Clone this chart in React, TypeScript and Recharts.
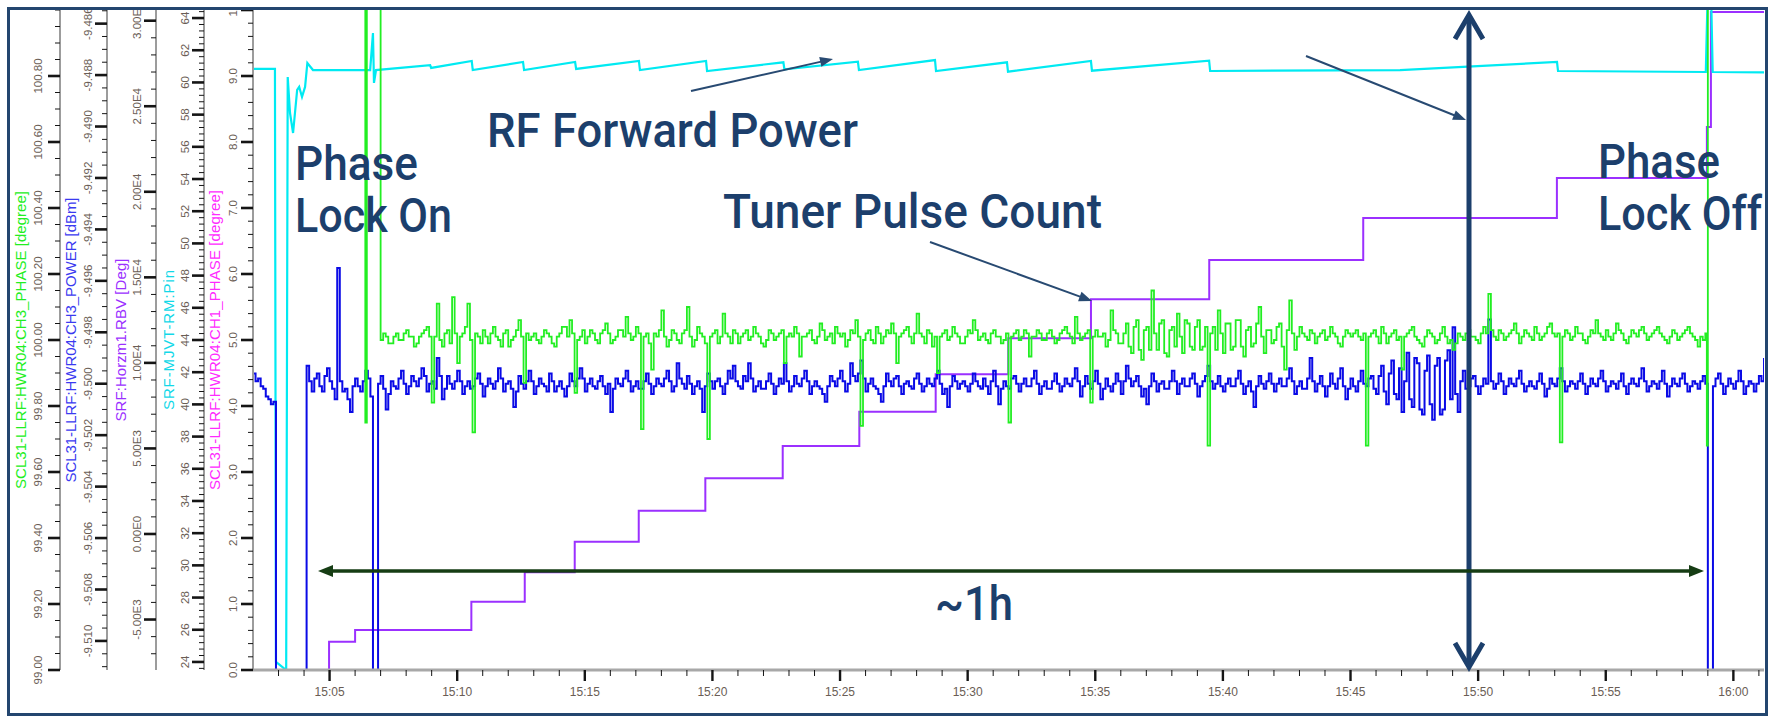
import React from 'react';
import { LineChart, Line, XAxis, YAxis } from 'recharts';

// ---------------- time axis (minutes after 15:00) ----------------
const X_DOMAIN: [number, number] = [2.0, 61.2];
const xMajorTicks = [5, 10, 15, 20, 25, 30, 35, 40, 45, 50, 55, 60];
const xTickLabels = ['15:05', '15:10', '15:15', '15:20', '15:25', '15:30', '15:35', '15:40', '15:45', '15:50', '15:55', '16:00'];
const X_MINOR_STEP = 1;

// ---------------- axis definitions ----------------
const GREEN_DOMAIN: [number, number] = [99.0, 101.0];
const greenMajorTicks = [99.0, 99.2, 99.4, 99.6, 99.8, 100.0, 100.2, 100.4, 100.6, 100.8];
const greenTickLabels = ['99.00', '99.20', '99.40', '99.60', '99.80', '100.00', '100.20', '100.40', '100.60', '100.80'];
const GREEN_MINOR_STEP = 0.05;

const BLUE_DOMAIN: [number, number] = [-9.51113, -9.48547];
const blueMajorTicks = [-9.51, -9.508, -9.506, -9.504, -9.502, -9.5, -9.498, -9.496, -9.494, -9.492, -9.49, -9.488, -9.486];
const blueTickLabels = ['-9.510', '-9.508', '-9.506', '-9.504', '-9.502', '-9.500', '-9.498', '-9.496', '-9.494', '-9.492', '-9.490', '-9.488', '-9.486'];
const BLUE_MINOR_STEP = 0.0005;

const PURPLE_DOMAIN: [number, number] = [-7950, 30625];
const purpleMajorTicks = [-5000, 0, 5000, 10000, 15000, 20000, 25000, 30000];
const purpleTickLabels = ['-5.00E3', '0.00E0', '5.00E3', '1.00E4', '1.50E4', '2.00E4', '2.50E4', '3.00E4'];
const PURPLE_MINOR_STEP = 1000;

const CYAN_DOMAIN: [number, number] = [23.5, 64.5];
const cyanMajorTicks = [24, 26, 28, 30, 32, 34, 36, 38, 40, 42, 44, 46, 48, 50, 52, 54, 56, 58, 60, 62, 64];
const cyanTickLabels = ['24', '26', '28', '30', '32', '34', '36', '38', '40', '42', '44', '46', '48', '50', '52', '54', '56', '58', '60', '62', '64'];
const CYAN_MINOR_STEP = 0.4;

const MAG_DOMAIN: [number, number] = [0, 10];
const magMajorTicks = [0, 1, 2, 3, 4, 5, 6, 7, 8, 9, 10];
const magTickLabels = ['0.0', '1.0', '2.0', '3.0', '4.0', '5.0', '6.0', '7.0', '8.0', '9.0', '10'];
const MAG_MINOR_STEP = 0.2;

// ---------------- series: SCL31-LLRF:HWR04:CH3_PHASE (green) ----------------
const greenLeadT = [6.37, 6.4, 6.46];
const greenLeadV = [101.5, 99.75, 101.5];
const GREEN_T0 = 7.0;
const GREEN_DT = 0.1;
const greenValues = [
  100.00, 100.02, 100.01, 99.99, 99.99, 100.01, 100.02, 100.00, 100.00, 100.02, 100.03, 100.01, 100.01, 99.98, 99.99, 100.01, 100.02, 100.03, 100.04, 100.01,
  99.81, 100.01, 100.11, 100.00, 99.98, 100.02, 100.03, 99.99, 100.13, 100.02, 99.93, 100.01, 100.02, 100.04, 100.11, 100.00, 99.72, 100.02, 100.01, 99.99,
  100.03, 100.01, 99.99, 100.02, 100.04, 100.01, 100.00, 99.98, 100.02, 100.03, 99.98, 100.00, 100.01, 100.03, 100.06, 100.01, 99.87, 100.02, 100.00, 100.01,
  100.02, 100.00, 99.99, 100.01, 100.03, 100.02, 100.01, 99.99, 99.98, 100.01, 100.02, 100.04, 100.04, 100.01, 100.06, 100.02, 99.84, 100.00, 100.01, 100.03,
  99.99, 100.01, 100.03, 100.02, 100.00, 99.99, 100.02, 100.03, 100.05, 100.02, 99.99, 100.00, 100.01, 100.03, 100.03, 100.01, 100.07, 100.02, 100.00, 100.01,
  100.04, 100.02, 99.73, 100.01, 100.02, 99.99, 99.91, 100.02, 100.01, 100.03, 100.09, 100.01, 99.98, 100.00, 100.03, 100.02, 100.00, 99.99, 100.02, 100.03,
  100.10, 100.01, 99.98, 100.00, 100.04, 100.02, 100.01, 99.99, 99.70, 100.01, 100.02, 100.03, 99.99, 100.01, 100.08, 100.02, 100.01, 99.99, 100.03, 100.02,
  99.99, 100.01, 100.02, 100.03, 100.00, 100.01, 100.04, 100.02, 100.01, 99.99, 99.98, 100.00, 100.03, 100.02, 100.00, 100.01, 100.02, 100.03, 99.93, 100.01,
  100.02, 100.01, 100.04, 100.02, 99.95, 100.01, 100.01, 100.02, 100.03, 100.00, 99.99, 100.01, 100.05, 100.03, 100.00, 100.01, 100.02, 99.99, 100.04, 100.02,
  100.01, 100.02, 99.98, 100.00, 100.03, 100.02, 100.06, 100.01, 99.74, 100.00, 100.02, 100.03, 100.00, 99.99, 100.04, 100.02, 99.99, 100.01, 100.03, 100.02,
  100.05, 100.02, 99.93, 100.01, 100.02, 100.03, 100.04, 100.01, 99.99, 100.02, 100.08, 100.02, 100.01, 99.99, 100.03, 100.02, 99.98, 100.01, 99.90, 100.01,
  100.02, 100.03, 100.00, 100.01, 100.04, 100.02, 100.01, 99.99, 99.99, 100.01, 100.03, 100.02, 100.06, 100.03, 100.00, 100.01, 100.02, 100.00, 99.99, 100.02,
  100.03, 100.01, 100.01, 99.99, 100.00, 100.02, 99.75, 100.01, 100.02, 100.03, 100.00, 100.01, 100.03, 100.02, 99.95, 100.01, 100.01, 100.03, 100.02, 100.00,
  100.00, 100.02, 100.03, 100.01, 99.99, 100.00, 100.02, 100.03, 100.04, 100.02, 100.01, 99.99, 100.07, 100.02, 100.00, 100.01, 100.02, 100.03, 99.81, 100.01,
  100.03, 100.01, 100.01, 100.02, 99.98, 100.00, 100.09, 100.03, 100.02, 99.99, 99.99, 100.02, 100.05, 99.98, 99.96, 100.04, 100.06, 99.97, 99.94, 100.03,
  100.04, 99.97, 100.15, 100.02, 99.97, 100.05, 100.06, 99.96, 99.95, 100.03, 100.04, 99.98, 100.08, 100.01, 99.96, 100.06, 100.05, 99.98, 99.97, 100.04,
  100.06, 99.97, 99.98, 100.04, 99.68, 100.02, 100.04, 99.97, 100.09, 100.02, 99.96, 100.05, 100.05, 99.97, 99.98, 100.06, 100.06, 99.98, 99.95, 100.03,
  100.04, 99.98, 99.99, 100.05, 100.10, 100.01, 99.96, 100.03, 100.03, 99.99, 100.00, 100.04, 100.05, 99.98, 99.91, 100.03, 100.12, 100.02, 99.97, 100.01,
  100.04, 100.02, 100.01, 100.00, 100.03, 100.02, 99.99, 100.01, 100.02, 100.03, 100.00, 100.01, 100.04, 100.02, 100.01, 99.99, 99.98, 100.01, 100.03, 100.02,
  100.01, 100.02, 100.03, 100.01, 100.00, 100.02, 99.68, 100.01, 100.02, 100.03, 100.01, 99.99, 100.04, 100.02, 99.99, 100.01, 100.02, 100.03, 100.00, 100.01,
  99.91, 100.01, 100.02, 100.03, 100.04, 100.01, 100.00, 99.99, 99.98, 100.01, 100.03, 100.02, 100.01, 99.99, 100.00, 100.02, 100.04, 100.01, 99.99, 100.00,
  99.97, 99.99, 100.02, 100.01, 100.00, 100.02, 100.03, 100.01, 100.01, 100.00, 99.99, 100.02, 100.04, 100.02, 100.14, 100.03, 100.01, 100.00, 100.03, 100.02,
  100.00, 100.01, 100.02, 100.03, 100.05, 100.02, 99.99, 100.01, 100.03, 100.02, 100.01, 100.00, 100.04, 100.02, 100.00, 100.01, 100.02, 100.04, 100.05, 100.02,
  100.01, 100.02, 99.69, 100.01, 100.03, 100.02, 100.00, 100.01, 100.04, 100.02, 100.02, 100.00, 99.99, 100.01, 100.03, 100.02, 100.06, 100.02, 100.01, 100.00,
  100.03, 100.01, 100.00, 100.02, 100.05, 100.03, 100.02, 100.00, 99.99, 100.01, 100.03, 100.02, 100.01, 100.03, 100.04, 100.02, 100.00, 100.01, 100.02, 100.03,
  100.04, 100.02, 100.01, 100.00, 99.99, 100.01, 100.03, 100.02, 100.00, 100.01, 100.02, 100.03, 100.04, 100.02, 100.01, 100.00, 99.98, 100.01, 100.00, 100.02,
];
const greenTailT = [58.96, 59.0];
const greenTailV = [99.68, 101.5];

// ---------------- series: SCL31-LLRF:HWR04:CH3_POWER (blue) ----------------
const BLUE_T0 = 2.0;
const BLUE_DT = 0.1;
const blueValues = [
  -9.4996, -9.4999, -9.4998, -9.5001, -9.5002, -9.5005, -9.5006, -9.5008, -9.5007, -9.515, -9.515, -9.515, -9.515, -9.515, -9.515, -9.515, -9.515, -9.515, -9.515, -9.515,
  -9.515, -9.4993, -9.4999, -9.5003, -9.4998, -9.4996, -9.5001, -9.5003, -9.4997, -9.4994, -9.4999, -9.5002, -9.5006, -9.4955, -9.4999, -9.5003, -9.5002, -9.5006, -9.5011, -9.5001,
  -9.4998, -9.5001, -9.5003, -9.4999, -9.4995, -9.4998, -9.5005, -9.515, -9.515, -9.5000, -9.4997, -9.5002, -9.5010, -9.5004, -9.4999, -9.5001, -9.5002, -9.4998, -9.4995, -9.5000,
  -9.5004, -9.5001, -9.4997, -9.4999, -9.5001, -9.4998, -9.4994, -9.4997, -9.5003, -9.5000, -9.4999, -9.5002, -9.4990, -9.4997, -9.5006, -9.5002, -9.4997, -9.5000, -9.5002, -9.4999,
  -9.4995, -9.4999, -9.5004, -9.5001, -9.4999, -9.5002, -9.5001, -9.4998, -9.4996, -9.5000, -9.5005, -9.5001, -9.4998, -9.5000, -9.5002, -9.4999, -9.4994, -9.4998, -9.5003, -9.5000,
  -9.4999, -9.5002, -9.5009, -9.5003, -9.4997, -9.5000, -9.5002, -9.4999, -9.4995, -9.4999, -9.5004, -9.5001, -9.4998, -9.5000, -9.5001, -9.5003, -9.4996, -9.4999, -9.5003, -9.5001,
  -9.4999, -9.5002, -9.5005, -9.5001, -9.4996, -9.4999, -9.5001, -9.4998, -9.4994, -9.4998, -9.5003, -9.5000, -9.4998, -9.5001, -9.5002, -9.4999, -9.4997, -9.5001, -9.5004, -9.5000,
  -9.5011, -9.5002, -9.4998, -9.5000, -9.5001, -9.4998, -9.4995, -9.4999, -9.5003, -9.5001, -9.4999, -9.5002, -9.5002, -9.4999, -9.4996, -9.5000, -9.5004, -9.5001, -9.4998, -9.5000,
  -9.5001, -9.4998, -9.4995, -9.4999, -9.5003, -9.5001, -9.4992, -9.4998, -9.5000, -9.5002, -9.4997, -9.5000, -9.5004, -9.5001, -9.4999, -9.5002, -9.5011, -9.5001, -9.4996, -9.4999,
  -9.5002, -9.4999, -9.4998, -9.5001, -9.5004, -9.5000, -9.4995, -9.4998, -9.4993, -9.4999, -9.5001, -9.5002, -9.4997, -9.4999, -9.4992, -9.4998, -9.5003, -9.5001, -9.4999, -9.5002,
  -9.5002, -9.4999, -9.4996, -9.5000, -9.5004, -9.5001, -9.4998, -9.5000, -9.4992, -9.4999, -9.5003, -9.5001, -9.4997, -9.5000, -9.5001, -9.4998, -9.4995, -9.4999, -9.5004, -9.5001,
  -9.4999, -9.5001, -9.5002, -9.5004, -9.5007, -9.5001, -9.4997, -9.4999, -9.5001, -9.4998, -9.4995, -9.4999, -9.5003, -9.5000, -9.4992, -9.4997, -9.4999, -9.4996, -9.4991, -9.4998,
  -9.5003, -9.5000, -9.4998, -9.5001, -9.5002, -9.5004, -9.5007, -9.5001, -9.4996, -9.4999, -9.5001, -9.4998, -9.4997, -9.5001, -9.5004, -9.5000, -9.4999, -9.5001, -9.5002, -9.4998,
  -9.4996, -9.5000, -9.5003, -9.5001, -9.4998, -9.5000, -9.5001, -9.4998, -9.4995, -9.5000, -9.5004, -9.5002, -9.5009, -9.5001, -9.4997, -9.4999, -9.5002, -9.5000, -9.4999, -9.5001,
  -9.5003, -9.5000, -9.4996, -9.4999, -9.5001, -9.5002, -9.4998, -9.5001, -9.5004, -9.4999, -9.4995, -9.5001, -9.5008, -9.5002, -9.4999, -9.5001, -9.5002, -9.4998, -9.4997, -9.5000,
  -9.5003, -9.5000, -9.4998, -9.5001, -9.5001, -9.4998, -9.4995, -9.5000, -9.5004, -9.5001, -9.4999, -9.5002, -9.5002, -9.4999, -9.4996, -9.5000, -9.5003, -9.5001, -9.4998, -9.5000,
  -9.5001, -9.4998, -9.4994, -9.4999, -9.5005, -9.5001, -9.4997, -9.5000, -9.5002, -9.4999, -9.4995, -9.5000, -9.5006, -9.5002, -9.4998, -9.5001, -9.5003, -9.5000, -9.4996, -9.4999,
  -9.5004, -9.4999, -9.4993, -9.4998, -9.5001, -9.4999, -9.4997, -9.5001, -9.5005, -9.5002, -9.5008, -9.5001, -9.4996, -9.4999, -9.5003, -9.5000, -9.4999, -9.5002, -9.5002, -9.4999,
  -9.4995, -9.4999, -9.5004, -9.5000, -9.4998, -9.5001, -9.5001, -9.4998, -9.4996, -9.5000, -9.5005, -9.5001, -9.4999, -9.4997, -9.4993, -9.4999, -9.5002, -9.5000, -9.4997, -9.5001,
  -9.5003, -9.5000, -9.4998, -9.5001, -9.5001, -9.4998, -9.4995, -9.5000, -9.5004, -9.5001, -9.4999, -9.5003, -9.5009, -9.5001, -9.4997, -9.5000, -9.5002, -9.4999, -9.4996, -9.5000,
  -9.5003, -9.5000, -9.4998, -9.5001, -9.5001, -9.4998, -9.4994, -9.4999, -9.5004, -9.5001, -9.4999, -9.5002, -9.5002, -9.4998, -9.4990, -9.4999, -9.5003, -9.5000, -9.4997, -9.5001,
  -9.5005, -9.5001, -9.4996, -9.5000, -9.5002, -9.4998, -9.4994, -9.5001, -9.5006, -9.5002, -9.4998, -9.5001, -9.5003, -9.4999, -9.4995, -9.5000, -9.5001, -9.4998, -9.4997, -9.5002,
  -9.5004, -9.4997, -9.4993, -9.5003, -9.5008, -9.4996, -9.4991, -9.5004, -9.5006, -9.4994, -9.5011, -9.4999, -9.4988, -9.5006, -9.5009, -9.4990, -9.4992, -9.5010, -9.5012, -9.4995,
  -9.4989, -9.5008, -9.5014, -9.4993, -9.4990, -9.5012, -9.5010, -9.4991, -9.4987, -9.5006, -9.4978, -9.5004, -9.5011, -9.4999, -9.4995, -9.5002, -9.5001, -9.4998, -9.4997, -9.5001,
  -9.5004, -9.5001, -9.4998, -9.5000, -9.4975, -9.4999, -9.5002, -9.5000, -9.4996, -9.4999, -9.5004, -9.5001, -9.4998, -9.5000, -9.5001, -9.4998, -9.4995, -9.5000, -9.5003, -9.5001,
  -9.4999, -9.5001, -9.5002, -9.4999, -9.4996, -9.5000, -9.5005, -9.5002, -9.4998, -9.5000, -9.5001, -9.4998, -9.4994, -9.4999, -9.5003, -9.5001, -9.4999, -9.5000, -9.5002, -9.4999,
  -9.4996, -9.5000, -9.5004, -9.5001, -9.4998, -9.5000, -9.5001, -9.4998, -9.4995, -9.4999, -9.5003, -9.5001, -9.4999, -9.5000, -9.5002, -9.4999, -9.4996, -9.5001, -9.5004, -9.5000,
  -9.4998, -9.5000, -9.5001, -9.4998, -9.4994, -9.4999, -9.5003, -9.5001, -9.4999, -9.5000, -9.5002, -9.4999, -9.4995, -9.5000, -9.5005, -9.5001, -9.4998, -9.5000, -9.5001, -9.4998,
  -9.4996, -9.5000, -9.5003, -9.5001, -9.4999, -9.5000, -9.5002, -9.4999, -9.4997, -9.5000, -9.515, -9.515, -9.5001, -9.4998, -9.4996, -9.5000, -9.5004, -9.5001, -9.4998, -9.5000,
  -9.5002, -9.4999, -9.4995, -9.4999, -9.5004, -9.5001, -9.4999, -9.5000, -9.5003, -9.5000, -9.4997, -9.4999, -9.4990,
];

// ---------------- series: SRF-MJVT-RM:Pin (cyan, RF forward power) ----------------
const cyanT = [2.0, 2.86, 2.9, 3.3, 3.36, 3.45, 3.57, 3.73, 3.81, 3.92, 4.04, 4.13, 4.35, 6.59, 6.7, 6.74, 6.82, 8.94, 8.98, 10.57, 10.61, 12.58, 12.62, 14.62, 14.66, 17.12, 17.16, 19.75, 19.79, 22.78, 22.82, 25.7, 25.74, 28.72, 28.76, 31.54, 31.58, 34.83, 34.87, 39.46, 39.5, 46.94, 53.09, 53.13, 58.92, 59.0, 59.12, 59.19, 61.2];
const cyanV = [60.84, 60.84, 24.0, 23.5, 60.34, 58.1, 56.86, 59.53, 59.72, 59.1, 59.72, 61.21, 60.77, 60.77, 63.07, 59.97, 60.77, 61.08, 60.9, 61.33, 60.77, 61.27, 60.77, 61.27, 60.84, 61.33, 60.77, 61.33, 60.71, 61.25, 60.82, 61.29, 60.77, 61.39, 60.71, 61.25, 60.67, 61.33, 60.73, 61.35, 60.71, 60.77, 61.27, 60.71, 60.65, 66, 66, 60.65, 60.62];

// ---------------- series: SRF:Horzm1.RBV (purple, tuner pulse count) ----------------
const purpleT = [4.78, 4.98, 6.0, 10.555, 12.647, 14.605, 17.113, 19.722, 22.754, 25.755, 28.747, 31.591, 34.831, 39.465, 45.498, 53.086, 58.962, 59.12, 61.2];
const purpleV = [-8500, -6295, -5611, -3957, -2239, -450, 1362, 3256, 5144, 7149, 9335, 11439, 13719, 16016, 18471, 20809, 23790, 30510, 30510];

// ---------------- styling ----------------
const C_GREEN = '#22ee22';
const C_BLUE = '#0a0ae6';
const C_CYAN = '#00eaf2';
const C_PURPLE = '#9b30ff';
const C_MAG = '#ff2aff';
const NAVY = '#1c3f6c';
const TICK_TEXT = '#6a5d55';
const AXIS_FONT = "'Liberation Sans', Arial, sans-serif";
const ANNOT_FONT = "Roboto, 'Liberation Sans', sans-serif";

// Recharts orders same-side axes by id: first id sits next to the plot
const ID_MAG = 'y1_mag';
const ID_CYAN = 'y2_cyan';
const ID_PURPLE = 'y3_purple';
const ID_BLUE = 'y4_blue';
const ID_GREEN = 'y5_green';

type Row = { t: number; g?: number; b?: number; c?: number; p?: number };

function buildRows(): Row[] {
  const rows: Row[] = [];
  greenLeadT.forEach((t, i) => rows.push({ t, g: greenLeadV[i] }));
  greenValues.forEach((v, i) => rows.push({ t: +(GREEN_T0 + i * GREEN_DT).toFixed(3), g: v }));
  greenTailT.forEach((t, i) => rows.push({ t, g: greenTailV[i] }));
  blueValues.forEach((v, i) => rows.push({ t: +(BLUE_T0 + i * BLUE_DT).toFixed(3), b: v }));
  cyanT.forEach((t, i) => rows.push({ t, c: cyanV[i] }));
  purpleT.forEach((t, i) => rows.push({ t, p: purpleV[i] }));
  rows.sort((a, b) => a.t - b.t);
  return rows;
}

function stepTicks(domain: [number, number], step: number): number[] {
  const out: number[] = [];
  const a = Math.ceil(domain[0] / step - 1e-9);
  const b = Math.floor(domain[1] / step + 1e-9);
  for (let i = a; i <= b; i++) out.push(+(i * step).toFixed(6));
  return out;
}

const makeYTick = (majors: number[], labels: string[], step: number, labelDx: number) => (props: any) => {
  const { x, y, payload } = props;
  const v = Number(payload.value);
  const idx = majors.findIndex((m) => Math.abs(m - v) < step / 10);
  const major = idx >= 0;
  const lx = x - labelDx;
  return (
    <g>
      <line x1={x - (major ? 12 : 5)} y1={y} x2={x} y2={y} stroke="#151515" strokeWidth={major ? 2.6 : 1} />
      {major ? (
        <text
          x={lx}
          y={y}
          transform={`rotate(-90 ${lx} ${y})`}
          textAnchor="middle"
          dominantBaseline="central"
          fontSize={11.5}
          fontFamily={AXIS_FONT}
          fill={TICK_TEXT}
        >
          {labels[idx]}
        </text>
      ) : null}
    </g>
  );
};

const renderXTick = (props: any) => {
  const { x, y, payload } = props;
  const v = Number(payload.value);
  const idx = xMajorTicks.findIndex((m) => Math.abs(m - v) < 0.01);
  const major = idx >= 0;
  return (
    <g>
      <line x1={x} y1={y} x2={x} y2={y + (major ? 11 : 6)} stroke="#151515" strokeWidth={major ? 2.4 : 1} />
      {major ? (
        <text x={x} y={y + 26} textAnchor="middle" fontSize={12} fontFamily={AXIS_FONT} fill={TICK_TEXT}>
          {xTickLabels[idx]}
        </text>
      ) : null}
    </g>
  );
};

function Arrow(props: { x1: number; y1: number; x2: number; y2: number; color: string; width: number; head: number; half: number }) {
  const { x1, y1, x2, y2, color, width, head, half } = props;
  const dx = x2 - x1;
  const dy = y2 - y1;
  const L = Math.hypot(dx, dy);
  const ux = dx / L;
  const uy = dy / L;
  const bx = x2 - ux * head;
  const by = y2 - uy * head;
  const px = -uy * half;
  const py = ux * half;
  return (
    <g>
      <line x1={x1} y1={y1} x2={bx + ux} y2={by + uy} stroke={color} strokeWidth={width} />
      <polygon points={`${x2},${y2} ${bx + px},${by + py} ${bx - px},${by - py}`} fill={color} />
    </g>
  );
}

function AxisTitle(props: { x: number; text: string; color: string; len: number }) {
  const { x, text, color, len } = props;
  return (
    <text
      x={x}
      y={340}
      transform={`rotate(-90 ${x} 340)`}
      textAnchor="middle"
      dominantBaseline="central"
      fontSize={15}
      fontFamily={AXIS_FONT}
      fill={color}
      textLength={len}
      lengthAdjust="spacing"
    >
      {text}
    </text>
  );
}

function BigText(props: { x: number; y: number; len: number; children: string }) {
  return (
    <text
      x={props.x}
      y={props.y}
      fontSize={49}
      fontFamily={ANNOT_FONT}
      fontWeight={500}
      fill={NAVY}
      textLength={props.len}
      lengthAdjust="spacingAndGlyphs"
    >
      {props.children}
    </text>
  );
}

export default function App() {
  const rows = buildRows();
  const xTicks = stepTicks([3, 61], X_MINOR_STEP);
  const axisLine = { stroke: '#9c9c9c', strokeWidth: 2 };
  return (
    <div style={{ position: 'absolute', left: 0, top: 0, width: 1773, height: 717, background: '#fff', overflow: 'hidden' }}>
      <div style={{ position: 'absolute', left: 10, top: 10, width: 1755, height: 703, overflow: 'hidden' }}>
        <div style={{ position: 'absolute', left: -10, top: -10 }}>
          <LineChart width={1773} height={717} data={rows} margin={{ top: 10, right: 9, bottom: 0, left: 0 }}>
            <XAxis
              dataKey="t"
              type="number"
              domain={X_DOMAIN}
              allowDataOverflow
              ticks={xTicks}
              interval={0}
              tick={renderXTick}
              tickLine={false}
              tickSize={0}
              tickMargin={0}
              height={47}
              axisLine={{ stroke: '#a8a8a8', strokeWidth: 3 }}
            />
            <YAxis
              yAxisId={ID_MAG}
              width={49}
              domain={MAG_DOMAIN}
              allowDataOverflow
              ticks={stepTicks(MAG_DOMAIN, MAG_MINOR_STEP)}
              interval={0}
              tick={makeYTick(magMajorTicks, magTickLabels, MAG_MINOR_STEP, 20)}
              tickLine={false}
              tickSize={0}
              tickMargin={0}
              axisLine={axisLine}
            />
            <YAxis
              yAxisId={ID_CYAN}
              width={48}
              domain={CYAN_DOMAIN}
              allowDataOverflow
              ticks={stepTicks(CYAN_DOMAIN, CYAN_MINOR_STEP)}
              interval={0}
              tick={makeYTick(cyanMajorTicks, cyanTickLabels, CYAN_MINOR_STEP, 19)}
              tickLine={false}
              tickSize={0}
              tickMargin={0}
              axisLine={axisLine}
            />
            <YAxis
              yAxisId={ID_PURPLE}
              width={49}
              domain={PURPLE_DOMAIN}
              allowDataOverflow
              ticks={stepTicks(PURPLE_DOMAIN, PURPLE_MINOR_STEP)}
              interval={0}
              tick={makeYTick(purpleMajorTicks, purpleTickLabels, PURPLE_MINOR_STEP, 19)}
              tickLine={false}
              tickSize={0}
              tickMargin={0}
              axisLine={axisLine}
            />
            <YAxis
              yAxisId={ID_BLUE}
              width={47}
              domain={BLUE_DOMAIN}
              allowDataOverflow
              ticks={stepTicks(BLUE_DOMAIN, BLUE_MINOR_STEP)}
              interval={0}
              tick={makeYTick(blueMajorTicks, blueTickLabels, BLUE_MINOR_STEP, 19)}
              tickLine={false}
              tickSize={0}
              tickMargin={0}
              axisLine={axisLine}
            />
            <YAxis
              yAxisId={ID_GREEN}
              width={60}
              domain={GREEN_DOMAIN}
              allowDataOverflow
              ticks={stepTicks(GREEN_DOMAIN, GREEN_MINOR_STEP)}
              interval={0}
              tick={makeYTick(greenMajorTicks, greenTickLabels, GREEN_MINOR_STEP, 22)}
              tickLine={false}
              tickSize={0}
              tickMargin={0}
              axisLine={axisLine}
            />
            <Line yAxisId={ID_PURPLE} dataKey="p" type="stepAfter" stroke={C_PURPLE} strokeWidth={2} dot={false} activeDot={false} connectNulls isAnimationActive={false} />
            <Line yAxisId={ID_CYAN} dataKey="c" type="linear" stroke={C_CYAN} strokeWidth={2.2} dot={false} activeDot={false} connectNulls isAnimationActive={false} />
            <Line yAxisId={ID_BLUE} dataKey="b" type="stepAfter" stroke={C_BLUE} strokeWidth={2} dot={false} activeDot={false} connectNulls isAnimationActive={false} />
            <Line yAxisId={ID_GREEN} dataKey="g" type="stepAfter" stroke={C_GREEN} strokeWidth={1.8} dot={false} activeDot={false} connectNulls isAnimationActive={false} />
          </LineChart>
        </div>
        <svg
          width={1773}
          height={717}
          style={{ position: 'absolute', left: -10, top: -10, pointerEvents: 'none' }}
        >
          <AxisTitle x={20} text="SCL31-LLRF:HWR04:CH3_PHASE [degree]" color={C_GREEN} len={298} />
          <AxisTitle x={70} text="SCL31-LLRF:HWR04:CH3_POWER [dBm]" color="#3a3af0" len={285} />
          <AxisTitle x={120} text="SRF:Horzm1.RBV [Deg]" color={C_PURPLE} len={163} />
          <AxisTitle x={168} text="SRF-MJVT-RM:Pin" color="#12d8e8" len={140} />
          <AxisTitle x={214} text="SCL31-LLRF:HWR04:CH1_PHASE [degree]" color={C_MAG} len={300} />

          <BigText x={295} y={180} len={123}>Phase</BigText>
          <BigText x={295} y={232} len={157}>Lock On</BigText>
          <BigText x={487} y={147} len={371}>RF Forward Power</BigText>
          <BigText x={723} y={228} len={379}>Tuner Pulse Count</BigText>
          <BigText x={1598} y={178} len={122}>Phase</BigText>
          <BigText x={1598} y={230} len={164}>Lock Off</BigText>
          <BigText x={935} y={620} len={78}>~1h</BigText>

          <Arrow x1={691} y1={91} x2={833} y2={59} color="#284a72" width={2} head={13} half={5} />
          <Arrow x1={1306} y1={56} x2={1466} y2={120} color="#284a72" width={2} head={13} half={5} />
          <Arrow x1={930} y1={242} x2={1092} y2={301} color="#284a72" width={2} head={13} half={5} />

          <line x1={1469} y1={16} x2={1469} y2={666} stroke={NAVY} strokeWidth={5} />
          <polyline points="1455,39 1469,15 1483,39" fill="none" stroke={NAVY} strokeWidth={5} />
          <polyline points="1455,643 1469,667 1483,643" fill="none" stroke={NAVY} strokeWidth={5} />

          <line x1={330} y1={571} x2={1692} y2={571} stroke="#163d14" strokeWidth={3.5} />
          <polygon points="318,571 333,565 333,577" fill="#163d14" />
          <polygon points="1704,571 1689,565 1689,577" fill="#163d14" />
        </svg>
      </div>
      <div
        style={{
          position: 'absolute',
          left: 7,
          top: 7,
          width: 1761,
          height: 709,
          boxSizing: 'border-box',
          border: '3px solid #23466f',
        }}
      />
    </div>
  );
}
